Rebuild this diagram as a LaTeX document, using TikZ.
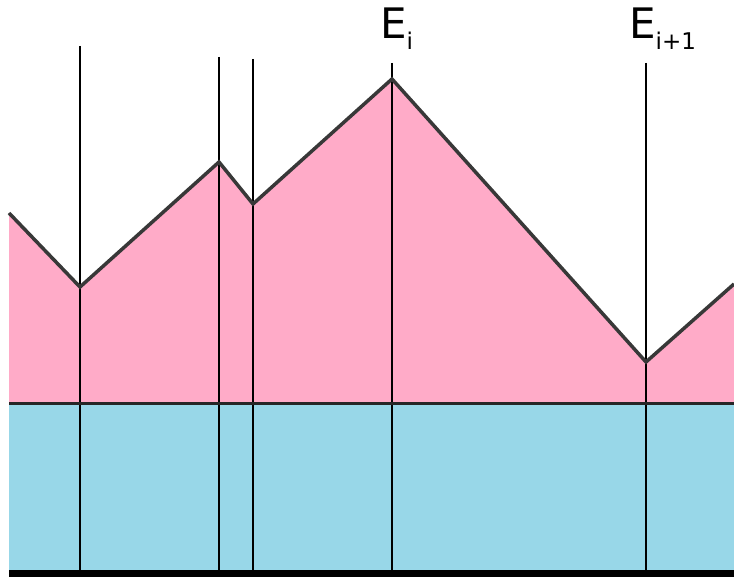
\documentclass[tikz,border=0pt]{standalone}
\usepackage{fontspec}
\setmainfont{DejaVu Sans}
\definecolor{rosa}{RGB}{255,171,200}
\definecolor{hellblau}{RGB}{152,215,232}
\tikzset{
    grenze/.style={line width=3.5pt, draw=black!78, line join=miter},
    senkrecht/.style={line width=2.2pt, draw=black},
    etikett/.style={anchor=base west, inner sep=0pt}
}
\newcommand{\Egross}[1]{{\fontsize{42}{42}\selectfont E}\raisebox{-11pt}{\fontsize{23}{23}\selectfont #1}}

\begin{document}
\begin{tikzpicture}[x=1pt, y=-1pt]
    \useasboundingbox (0,0) rectangle (734,580);

    % Points of the upper boundary
    \coordinate (p0) at (9,213);
    \coordinate (p1) at (80,287);
    \coordinate (p2) at (219,162);
    \coordinate (p3) at (253,204);
    \coordinate (p4) at (392,79);
    \coordinate (p5) at (646,362);
    \coordinate (p6) at (734,284);

    % Draw layers
    \fill[rosa] (p0) -- (p1) -- (p2) -- (p3) -- (p4) -- (p5) -- (p6) -- (734,403) -- (9,403) -- cycle;
    \fill[hellblau] (9,403) rectangle (734,570);

    % Labels
    \node[etikett] (Ei) at (380,39) {\Egross{i}};
    \node[etikett] (Ej) at (629,39) {\Egross{i+1}};

    % Vertical lines
    \coordinate (t1) at (80,46);   \coordinate (b1) at (80,572);
    \coordinate (t2) at (219,57);  \coordinate (b2) at (219,572);
    \coordinate (t3) at (253,59);  \coordinate (b3) at (253,572);
    \coordinate (t4) at (392,63);  \coordinate (b4) at (392,572);
    \coordinate (t5) at (646,63);  \coordinate (b5) at (646,572);
    \draw[senkrecht] (t1) -- (b1);
    \draw[senkrecht] (t2) -- (b2);
    \draw[senkrecht] (t3) -- (b3);
    \draw[senkrecht] (t4) -- (b4);
    \draw[senkrecht] (t5) -- (b5);

    % Boundaries
    \draw[grenze] (p0) -- (p1) -- (p2) -- (p3) -- (p4) -- (p5) -- (p6);
    \coordinate (hl) at (9,403);  \coordinate (hr) at (734,403);
    \draw[line width=3pt, draw=black!85] (hl) -- (hr);
    \coordinate (ul) at (9,573.5);  \coordinate (ur) at (734,573.5);
    \draw[line width=7pt, draw=black] (ul) -- (ur);
\end{tikzpicture}
\end{document}
